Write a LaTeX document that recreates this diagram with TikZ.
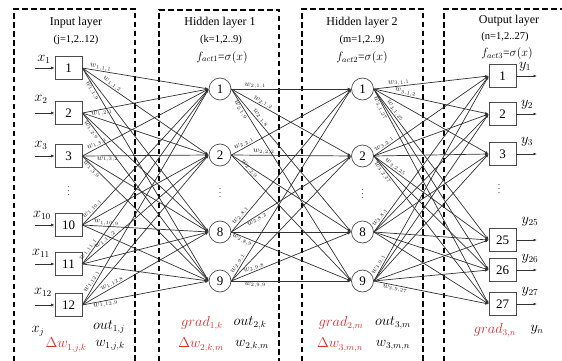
\documentclass[tikz,border=0pt]{standalone}
\usepackage{fontspec}
\setmainfont{Liberation Serif}
\usetikzlibrary{arrows.meta}
\definecolor{wire}{RGB}{50,50,50}
\definecolor{gradred}{RGB}{222,45,45}
\begin{document}
\begin{tikzpicture}[x=1pt,y=-1pt,
  layerbox/.style={dash pattern=on 5.5pt off 3.5pt, line width=1.4pt, black},
  unitbox/.style={draw=black!70, line width=0.7pt, minimum width=27pt, minimum height=23pt, inner sep=0pt, font=\fontsize{13}{13}\selectfont},
  unitcirc/.style={circle, draw=black!70, line width=0.7pt, minimum size=22pt, inner sep=0pt, font=\fontsize{13}{13}\selectfont},
  edge/.style={draw=wire, line width=0.7pt, -{Latex[length=3.5pt,width=2.8pt]}},
  wl/.style={font=\fontsize{7.8}{7.8}\selectfont, text=black!85, inner sep=0.5pt, sloped},
  title/.style={font=\fontsize{12}{12}\selectfont},
  subt/.style={font=\fontsize{10.5}{10.5}\selectfont},
  fl/.style={font=\fontsize{11.5}{11.5}\selectfont},
  bl/.style={font=\fontsize{13.5}{13.5}\selectfont},
  il/.style={font=\fontsize{13.5}{13.5}\selectfont},
  redl/.style={bl, text=gradred},
  vdot/.style={font=\fontsize{10}{10}\selectfont, text=black!70},
]
\useasboundingbox (0,0) rectangle (562,361);

% layer frames (open at the bottom)
\draw[layerbox] (14,361) -- (14,9) -- (135,9) -- (135,361);
\draw[layerbox] (159,361) -- (159,10) -- (279,10) -- (279,361);
\draw[layerbox] (302,361) -- (302,9) -- (423,9) -- (423,361);
\draw[layerbox] (444,361) -- (444,9) -- (562,9);

% layer titles
\node[title] (t1) at (76,23) {Input layer};
\node[subt] (s1) at (76,40) {(j=1,2..12)};
\node[title] (t2) at (220,23) {Hidden layer 1};
\node[subt] (s2) at (221,40) {(k=1,2..9)};
\node[fl] (f2) at (222,57) {$f_{act1}$=$\sigma(x)$};
\node[title] (t3) at (362,23) {Hidden layer 2};
\node[subt] (s3) at (362,40) {(m=1,2..9)};
\node[fl] (f3) at (362,58) {$f_{act2}$=$\sigma(x)$};
\node[title] (t4) at (509,21) {Output layer};
\node[subt] (s4) at (505,37) {(n=1,2..27)};
\node[fl] (f4) at (507,54) {$f_{act3}$=$\sigma(x)$};

% input units
\foreach \i/\y in {1/68,2/113,3/156,10/225,11/264,12/305}
  \node[unitbox] (in\i) at (68.5,\y) {\i};
\node[vdot] (din) at (68.5,188) {$\vdots$};

% first hidden layer
\foreach \i/\y in {1/89,2/155,8/232,9/281}
  \node[unitcirc] (ha\i) at (220,\y) {\i};
\node[vdot] (dha) at (220,190) {$\vdots$};

% second hidden layer
\foreach \i/\y in {1/89,2/156,8/232,9/281}
  \node[unitcirc] (hb\i) at (362.5,\y) {\i};
\node[vdot] (dhb) at (362.5,191) {$\vdots$};

% output units
\foreach \i/\y in {1/76,2/114,3/154,25/240,26/270,27/304}
  \node[unitbox] (o\i) at (502.5,\y) {\i};
\node[vdot] (dout) at (499,186) {$\vdots$};

% inputs
\foreach \i/\y/\lx/\ly in {1/68/44/59,2/113/41/99,3/156/41/145,10/225/42/215,11/264/41/253,12/305/43/292}{
  \coordinate (xs\i) at (35,\y);
  \draw[edge] (xs\i) -- (in\i.west);
  \node[il] (xl\i) at (\lx,\ly) {$x_{\i}$};
}

% outputs
\foreach \i/\y/\lx/\ly in {1/76/525/67,2/114/527/105,3/154/527/142,25/240/530/222,26/270/530/259,27/304/530/292}{
  \coordinate (ye\i) at (537,\y);
  \draw[edge] (o\i.east) -- (ye\i);
  \node[il] (yl\i) at (\lx,\ly) {$y_{\i}$};
}

% connections
\foreach \a in {1,2,3,10,11,12}
  \foreach \b in {1,2,8,9}
    \draw[edge] (in\a.east) -- (ha\b.west);
\foreach \a in {1,2,8,9}
  \foreach \b in {1,2,8,9}
    \draw[edge] (ha\a.east) -- (hb\b.west);
\foreach \a in {1,2,8,9}
  \foreach \b in {1,2,3,25,26,27}
    \draw[edge] (hb\a.east) -- (o\b.west);

% weight labels, input -> hidden 1
\path (in1.east) -- (ha1.west) node[wl,pos=.14,above] {$w_{1,1,1}$};
\path (in1.east) -- (ha2.west) node[wl,pos=.22,above] {$w_{1,1,2}$};
\path (in1.east) -- (ha9.west) node[wl,pos=.1,below] {$w_{1,1,9}$};
\path (in2.east) -- (ha1.west) node[wl,pos=.15,below] {$w_{1,2,1}$};
\path (in2.east) -- (ha9.west) node[wl,pos=.09,below] {$w_{1,2,9}$};
\path (in3.east) -- (ha1.west) node[wl,pos=.13,above] {$w_{1,3,1}$};
\path (in3.east) -- (ha2.west) node[wl,pos=.2,below] {$w_{1,3,2}$};
\path (in3.east) -- (ha9.west) node[wl,pos=.09,below] {$w_{1,3,9}$};
\path (in10.east) -- (ha1.west) node[wl,pos=.1,above] {$w_{1,10,1}$};
\path (in10.east) -- (ha8.west) node[wl,pos=.19,above] {$w_{1,10,9}$};
\path (in11.east) -- (ha1.west) node[wl,pos=.07,above] {$w_{1,11,1}$};
\path (in11.east) -- (ha2.west) node[wl,pos=.2,above] {$w_{1,11,2}$};
\path (in12.east) -- (ha1.west) node[wl,pos=.1,above] {$w_{1,12,1}$};
\path (in12.east) -- (ha8.west) node[wl,pos=.25,above] {$w_{1,12,8}$};
\path (in12.east) -- (ha9.west) node[wl,pos=.18,below] {$w_{1,12,9}$};

% weight labels, hidden 1 -> hidden 2
\path (ha1.east) -- (hb1.west) node[wl,pos=.2,above] {$w_{2,1,1}$};
\path (ha1.east) -- (hb2.west) node[wl,pos=.25,above] {$w_{2,1,2}$};
\path (ha1.east) -- (hb8.west) node[wl,pos=.22,above] {$w_{2,1,8}$};
\path (ha1.east) -- (hb9.west) node[wl,pos=.1,below] {$w_{2,1,9}$};
\path (ha2.east) -- (hb1.west) node[wl,pos=.12,above] {$w_{2,2,1}$};
\path (ha2.east) -- (hb2.west) node[wl,pos=.27,above] {$w_{2,2,2}$};
\path (ha2.east) -- (hb9.west) node[wl,pos=.13,above] {$w_{2,2,9}$};
\path (ha8.east) -- (hb1.west) node[wl,pos=.1,above] {$w_{2,8,1}$};
\path (ha8.east) -- (hb2.west) node[wl,pos=.2,below] {$w_{2,8,2}$};
\path (ha8.east) -- (hb9.west) node[wl,pos=.1,below] {$w_{2,8,9}$};
\path (ha9.east) -- (hb1.west) node[wl,pos=.08,above] {$w_{2,9,1}$};
\path (ha9.east) -- (hb8.west) node[wl,pos=.2,above] {$w_{2,9,8}$};
\path (ha9.east) -- (hb9.west) node[wl,pos=.2,below] {$w_{2,9,9}$};

% weight labels, hidden 2 -> output
\path (hb1.east) -- (o1.west) node[wl,pos=.22,above] {$w_{3,1,1}$};
\path (hb1.east) -- (o2.west) node[wl,pos=.27,above] {$w_{3,1,2}$};
\path (hb1.east) -- (o25.west) node[wl,pos=.16,above] {$w_{3,1,25}$};
\path (hb1.east) -- (o27.west) node[wl,pos=.08,below] {$w_{3,1,27}$};
\path (hb2.east) -- (o1.west) node[wl,pos=.11,above] {$w_{3,2,1}$};
\path (hb2.east) -- (o25.west) node[wl,pos=.17,above] {$w_{3,2,25}$};
\path (hb2.east) -- (o27.west) node[wl,pos=.1,below] {$w_{3,2,27}$};
\path (hb8.east) -- (o1.west) node[wl,pos=.08,above] {$w_{3,8,1}$};
\path (hb9.east) -- (o1.west) node[wl,pos=.07,above] {$w_{3,9,1}$};
\path (hb9.east) -- (o27.west) node[wl,pos=.19,below] {$w_{3,9,27}$};

% quantities under each layer
\node[bl] (xj) at (38,331) {$x_j$};
\node[bl] (o1j) at (109,327) {$out_{1,j}$};
\node[redl] (dw1) at (66,345) {$\Delta w_{1,j,k}$};
\node[bl] (w1) at (110,345) {$w_{1,j,k}$};
\node[redl] (g1) at (202,323) {$grad_{1,k}$};
\node[bl] (o2k) at (250,323) {$out_{2,k}$};
\node[redl] (dw2) at (201,345) {$\Delta w_{2,k,m}$};
\node[bl] (w2) at (252,345) {$w_{2,k,m}$};
\node[redl] (g2) at (341,323) {$grad_{2,m}$};
\node[bl] (o3m) at (393,323) {$out_{3,m}$};
\node[redl] (dw3) at (340,345) {$\Delta w_{3,m,n}$};
\node[bl] (w3) at (393,345) {$w_{3,m,n}$};
\node[redl] (g3) at (495,330) {$grad_{3,n}$};
\node[bl] (yn) at (537,330) {$y_n$};
\end{tikzpicture}
\end{document}
